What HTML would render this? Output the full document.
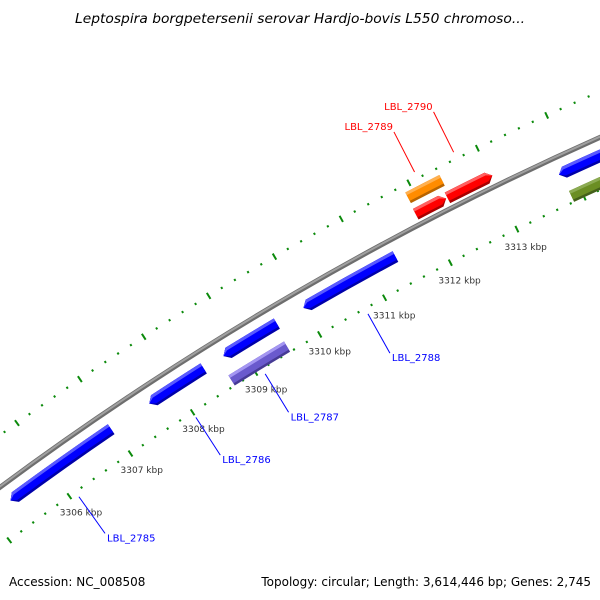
<!DOCTYPE html>
<html><head><meta charset="utf-8"><style>
html,body{margin:0;padding:0;background:#fff;}
svg{display:block;font-family:"DejaVu Sans","Liberation Sans",sans-serif;}
</style></head><body>
<svg id="map" width="600" height="600" viewBox="0 0 600 600" xmlns="http://www.w3.org/2000/svg">
<text x="300" y="23" text-anchor="middle" font-size="13.5" font-style="italic" fill="#000" textLength="450" lengthAdjust="spacingAndGlyphs">Leptospira borgpetersenii serovar Hardjo-bovis L550 chromoso...</text>
<text x="9" y="586" font-size="12" fill="#000">Accession: NC_008508</text>
<text x="591" y="586" text-anchor="end" font-size="12" fill="#000">Topology: circular; Length: 3,614,446 bp; Genes: 2,745</text>
<g id="layer"></g>
</svg>
<script>
// data (kbp)
const geneNames  = ["LBL_2785","LBL_2786","LBL_2787a","LBL_2787","LBL_2788","LBL_2789a","LBL_2789","LBL_2790","LBL_2791","LBL_2792"];
const geneStarts = [3305.33,3307.58,3308.75,3308.67,3309.99,3311.89,3311.90,3312.36,3313.82,3313.85];
const geneEnds   = [3306.97,3308.44,3309.58,3309.54,3311.39,3312.34,3312.40,3313.02,3315.50,3315.50];
const geneStrand = [-1,-1,-1,0,-1,1,0,1,-1,0];
const geneRing   = ["rev","rev","rev","inner","rev","fwd","outer","fwd","rev","inner"];
const geneColors = ["blue","blue","blue","purple","blue","red","orange","red","blue","olive"];
const labelNames = ["LBL_2785","LBL_2786","LBL_2787","LBL_2788","LBL_2789","LBL_2790"];
const labelPos   = [3306.10,3308.00,3309.10,3310.70,3312.13,3312.70];
const labelSide  = [-1,-1,-1,-1,1,1];
const tickLabels = [3306,3307,3308,3309,3310,3311,3312,3313];
const tickStart = 3304.4, tickEnd = 3315.6;

// geometry
const CX=1892, CY=3042;
const R_BACK=3179, R_INTICK=3131, R_OUTTICK=3221;
const ringR={rev:3162,fwd:3190,inner:3137,outer:3208};
const palette={
  blue:["#5a5aff","#0000ff","#0000a8"], red:["#ff6060","#ff0000","#a80000"],
  orange:["#ffb050","#ff8c00","#b86400"], purple:["#a496f2","#6a5acd","#463a94"],
  olive:["#8cab52","#6b8e23","#44601a"]
};
const A0=-125.6, DEG_PER_KBP=1.364;
function ang(kbp){return (A0+(kbp-3306)*DEG_PER_KBP)*Math.PI/180;}
function pt(kbp,r){const a=ang(kbp);return [CX+r*Math.cos(a),CY+r*Math.sin(a)];}
function P(a,r){return [CX+r*Math.cos(a),CY+r*Math.sin(a)];}
const NS="http://www.w3.org/2000/svg";
const layer=document.getElementById('layer');
function mk(tag,attrs,parent){const e=document.createElementNS(NS,tag);for(const k in attrs)e.setAttribute(k,attrs[k]);(parent||layer).appendChild(e);return e;}
function f(p){return p[0].toFixed(2)+","+p[1].toFixed(2);}
function bandPath(a1,a2,r1,r2,strand,rm){
  const h=6/rm;
  let s=a1,e=a2;
  if(strand<0)s=Math.min(a1+h,a2); if(strand>0)e=Math.max(a2-h,a1);
  let d="M"+f(P(s,r2))+" A"+r2+","+r2+" 0 0 1 "+f(P(e,r2));
  if(strand>0)d+=" L"+f(P(a2,rm));
  d+=" L"+f(P(e,r1))+" A"+r1+","+r1+" 0 0 0 "+f(P(s,r1));
  if(strand<0)d+=" L"+f(P(a1,rm));
  return d+" Z";
}

// backbone
const bb=mk('g',{});


const b1=ang(3304.0), b2=ang(3316.0);
mk('path',{d:"M"+f(P(b1,R_BACK))+" A"+R_BACK+","+R_BACK+" 0 0 1 "+f(P(b2,R_BACK)),fill:"none",stroke:"#6e6e6e","stroke-width":5},bb);
mk('path',{d:"M"+f(P(b1,R_BACK+0.7))+" A"+R_BACK+","+R_BACK+" 0 0 1 "+f(P(b2,R_BACK+0.7)),fill:"none",stroke:"#a0a0a0","stroke-width":2},bb);

// ticks
function tickRing(r,name){
  const g=mk('g',{});
  
  
  for(let k=Math.round(tickStart*5);k<=tickEnd*5;k++){
    const kb=k/5, major=(k%5===0);
    const len=major?7:2.2;
    const a=ang(kb);
    const t=mk('line',{x1:P(a,r-len/2)[0],y1:P(a,r-len/2)[1],x2:P(a,r+len/2)[0],y2:P(a,r+len/2)[1],stroke:"#0b8a0b","stroke-width":2},g);
    
    
  }
}
tickRing(R_INTICK,'inner-tick-ring');
tickRing(R_OUTTICK,'outer-tick-ring');
tickLabels.forEach(v=>{
  const p=pt(v,3111);
  const t=mk('text',{x:p[0],y:p[1]+3,"text-anchor":"middle","font-size":"9",fill:"#333"});
  t.textContent=v+" kbp";
  
  
});

// genes
geneNames.forEach((n,i)=>{
  const r=ringR[geneRing[i]], w=12, r1=r-w/2, r2=r+w/2;
  const a1=ang(geneStarts[i]), a2=ang(geneEnds[i]);
  const c=palette[geneColors[i]];
  const g=mk('g',{});
  
  
  mk('path',{d:bandPath(a1,a2,r1,r2,geneStrand[i],r),fill:c[2]},g);
  mk('path',{d:bandPath(a1,a2,r1+2.5,r2,geneStrand[i],r),fill:c[1]},g);
  mk('path',{d:bandPath(a1,a2,r2-3,r2,geneStrand[i],r),fill:c[0]},g);
});

// labels
labelNames.forEach((n,i)=>{
  const side=labelSide[i];
  const rA=side<0?3125:3228, rB=side<0?3080:3273;
  const p1=pt(labelPos[i],rA), p2=pt(labelPos[i],rB);
  const col=side<0?"#0000ff":"#ff0000";
  const l=mk('line',{x1:p1[0],y1:p1[1],x2:p2[0],y2:p2[1],stroke:col,"stroke-width":1});
  
  
  const t=mk('text',side<0?{x:p2[0]+2,y:p2[1]+8,"font-size":"10",fill:col}:{x:p2[0]-1,y:p2[1]-2,"font-size":"10",fill:col,"text-anchor":"end"});
  t.textContent=n;
  
  
});
</script>
</body></html>
